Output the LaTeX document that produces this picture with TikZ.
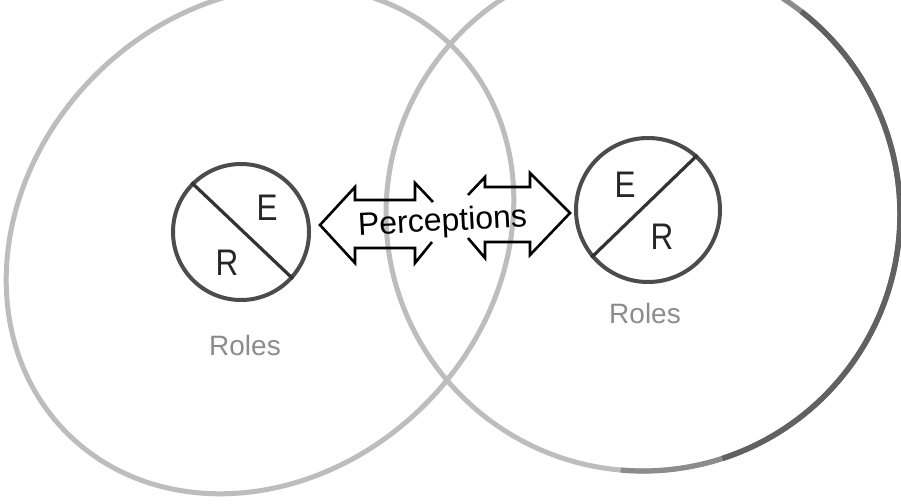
\documentclass[tikz,border=0pt]{standalone}
\usepackage{fontspec}
\setmainfont{Liberation Sans}
\begin{document}
\begin{tikzpicture}[x=1pt,y=-1pt,
  bigc/.style={draw=black!26, line width=5pt},
  bigdark/.style={draw=black!62, line width=5.5pt},
  smallc/.style={circle, draw=black!70, line width=4pt, inner sep=0pt},
  diag/.style={draw=black!80, line width=3.2pt},
  letter/.style={font=\fontsize{37}{37}\selectfont, text=black!85, inner sep=0pt, xscale=0.85},
  roles/.style={font=\fontsize{28}{28}\selectfont, text=black!45, inner sep=0pt},
  blockarrow/.style={draw=black, line width=2.6pt, line join=miter, line cap=butt}]
\useasboundingbox (0,0) rectangle (901,503);
\clip (0,0) rectangle (901,503);
\fill[white] (0,0) rectangle (901,503);
% large circles
\draw[bigc, shift={(260,240)}, rotate=45] (0,0) ellipse[x radius=273pt, y radius=233pt];
\draw[bigc] (643,214) circle[radius=257pt];
\draw[draw=black!45, line width=5.2pt] ([shift={(57:257pt)}]643,214) arc[start angle=57, end angle=-95, radius=257pt];
\draw[bigdark] ([shift={(52:257pt)}]643,214) arc[start angle=52, end angle=-72, radius=257pt];
% small circles
\node[smallc, minimum size=136pt] (c1) at (241,232) {};
\draw[diag] (c1.135) -- (c1.-42);
\node[letter] (e1) at (267,208) {E};
\node[letter] (r1) at (227,263) {R};
\node[roles] (roles1) at (245,345) {Roles};
\node[smallc, minimum size=144pt] (c2) at (648,210) {};
\draw[diag] (c2.220) -- (c2.48);
\node[letter] (e2) at (625,185) {E};
\node[letter] (r2) at (662,237) {R};
\node[roles] (roles2) at (645,313) {Roles};
% perceptions arrows
\draw[blockarrow] (433,202) -- (415,183) -- (415,200) -- (355,200) -- (355,187) -- (320,225)
  -- (355,263) -- (355,248) -- (415,248) -- (415,263) -- (432,242);
\draw[blockarrow] (468,195) -- (485,177) -- (485,187) -- (530,187) -- (530,173) -- (570,213)
  -- (530,255) -- (530,242) -- (485,242) -- (485,258) -- (468,238);
\node[font=\fontsize{32}{32}\selectfont, inner sep=0pt, anchor=base, rotate=3] (perc) at (443,231) {Perceptions};
\end{tikzpicture}
\end{document}
